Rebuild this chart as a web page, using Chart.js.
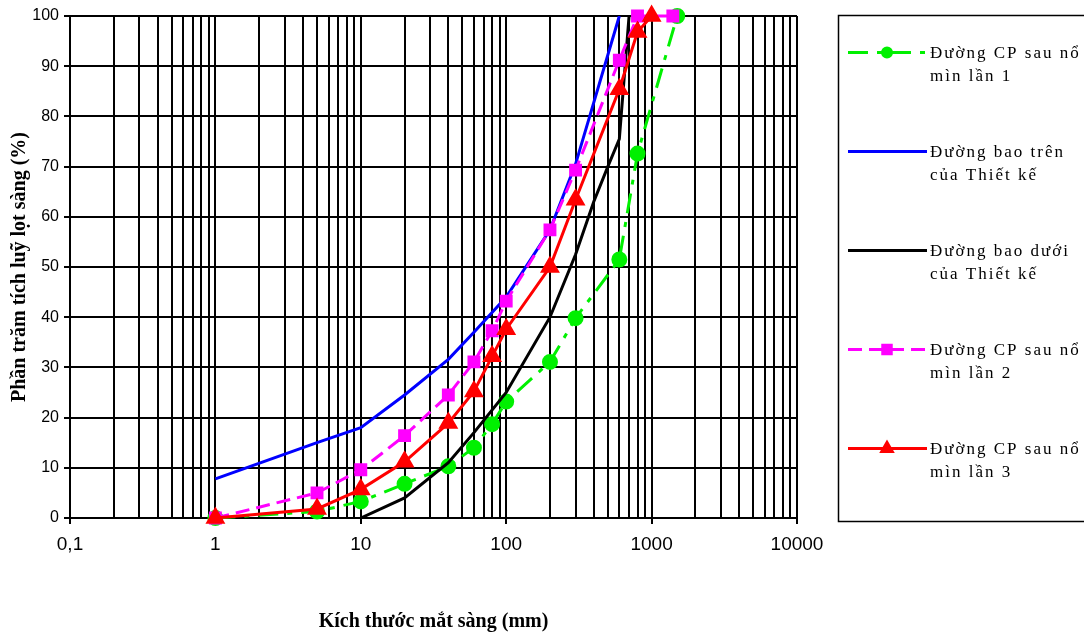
<!DOCTYPE html>
<html>
<head>
<meta charset="utf-8">
<script src="https://cdn.jsdelivr.net/npm/chart.js@4.4.0/dist/chart.umd.min.js"></script>
<style>
  html, body { margin: 0; padding: 0; background: #fff; }
  #wrap { width: 1084px; height: 634px; }
</style>
</head>
<body>
<div id="wrap"><canvas id="chart" width="1084" height="634"></canvas></div>
<script>
// sieve sizes (mm) and cumulative passing (%)
const sizes1 = [1, 5, 10, 20, 40, 60, 80, 100, 200, 300, 600, 800, 1500];
const pass1 = [0, 1.3, 3.3, 6.8, 10.3, 14, 18.7, 23.2, 31.1, 39.8, 51.5, 72.6, 100];

const sizesUpper = [1, 5, 10, 20, 40, 60, 100, 200, 300, 600];
const passUpper = [7.8, 15, 18, 24.5, 31.6, 37, 44, 57.4, 70.5, 100];

const sizesLower = [10, 20, 40, 60, 100, 200, 300, 400, 500, 600, 700];
const passLower = [0, 4, 11, 17, 25, 40, 52.5, 63, 70, 75.5, 100];

const sizes2 = [1, 5, 10, 20, 40, 60, 80, 100, 200, 300, 600, 800, 1400];
const pass2 = [0, 5, 9.6, 16.4, 24.5, 31.1, 37.3, 43.2, 57.4, 69.3, 91.2, 100, 100];

const sizes3 = [1, 5, 10, 20, 40, 60, 80, 100, 200, 300, 600, 800, 1000];
const pass3 = [0, 1.8, 5.7, 11.2, 18.9, 25.2, 32.2, 37.6, 50, 63.4, 85.4, 96.8, 100];

const xDecades = [0.1, 1, 10, 100, 1000, 10000];
const xTickLabels = ['0,1', '1', '10', '100', '1000', '10000'];

const legendLabels = [
  ['Đường CP sau nổ', 'mìn lần 1'],
  ['Đường bao trên', 'của Thiết kế'],
  ['Đường bao dưới', 'của Thiết kế'],
  ['Đường CP sau nổ', 'mìn lần 2'],
  ['Đường CP sau nổ', 'mìn lần 3']
];

const toPts = (xs, ys) => xs.map((x, i) => ({ x: x, y: ys[i] }));

// all log grid lines 0.1 .. 10000
const gridVals = [];
xDecades.forEach((d, i) => {
  if (i === xDecades.length - 1) { gridVals.push(d); return; }
  for (let k = 1; k <= 9; k++) gridVals.push(d * k);
});
const isDecade = v => xDecades.some(d => Math.abs(d - v) / d < 1e-6);

const GREEN = '#00f000', BLUE = '#0000ff', MAGENTA = '#ff00ff', RED = '#ff0000';

const legendPlugin = {
  id: 'sideLegend',
  afterDraw(chart) {
    const ctx = chart.ctx;
    ctx.save();
    ctx.strokeStyle = '#000';
    ctx.lineWidth = 1.5;
    ctx.setLineDash([]);
    ctx.strokeRect(838.5, 15.5, 300, 506);
    chart.data.datasets.forEach((ds, i) => {
      const y = 52.5 + i * 99;
      ctx.strokeStyle = ds.borderColor;
      ctx.lineWidth = 3;
      ctx.setLineDash(ds.borderDash || []);
      ctx.beginPath();
      ctx.moveTo(848, y);
      ctx.lineTo(927, y);
      ctx.stroke();
      ctx.setLineDash([]);
      if (ds.pointRadius > 0) {
        ctx.fillStyle = ds.borderColor;
        Chart.helpers.drawPoint(ctx, {
          pointStyle: ds.pointStyle,
          radius: ds.legendRadius,
          rotation: 0,
          borderWidth: 1
        }, 887, y);
      }
      ctx.fillStyle = '#000';
      ctx.font = '17px "Liberation Serif"';
      ctx.letterSpacing = '2px';
      ctx.textAlign = 'left';
      ctx.textBaseline = 'alphabetic';
      ctx.fillText(legendLabels[i][0], 930, y + 5.5);
      ctx.fillText(legendLabels[i][1], 930, y + 28.5);
      ctx.letterSpacing = '0px';
    });
    ctx.restore();
  }
};

new Chart(document.getElementById('chart'), {
  type: 'line',
  data: {
    datasets: [
      {
        label: legendLabels[0].join(' '),
        data: toPts(sizes1, pass1),
        borderColor: GREEN, backgroundColor: GREEN,
        borderWidth: 3, borderDash: [20, 9, 5, 9],
        pointStyle: 'circle', pointRadius: 6.5, legendRadius: 4.5,
        pointBorderColor: GREEN, pointBackgroundColor: GREEN,
        clip: false,
        order: 5
      },
      {
        label: legendLabels[1].join(' '),
        data: toPts(sizesUpper, passUpper),
        borderColor: BLUE, backgroundColor: BLUE,
        borderWidth: 3, pointRadius: 0,
        order: 4
      },
      {
        label: legendLabels[2].join(' '),
        data: toPts(sizesLower, passLower),
        borderColor: '#000', backgroundColor: '#000',
        borderWidth: 3, pointRadius: 0,
        order: 3
      },
      {
        label: legendLabels[3].join(' '),
        data: toPts(sizes2, pass2),
        borderColor: MAGENTA, backgroundColor: MAGENTA,
        borderWidth: 3, borderDash: [14, 7],
        pointStyle: 'rect', pointRadius: 7, legendRadius: 6,
        pointBorderColor: MAGENTA, pointBackgroundColor: MAGENTA,
        clip: false,
        order: 2
      },
      {
        label: legendLabels[4].join(' '),
        data: toPts(sizes3, pass3),
        borderColor: RED, backgroundColor: RED,
        borderWidth: 3,
        pointStyle: 'triangle', pointRadius: 8.5, legendRadius: 6,
        pointBorderColor: RED, pointBackgroundColor: RED,
        clip: false,
        order: 1
      }
    ]
  },
  options: {
    responsive: false,
    animation: false,
    layout: { padding: { left: 8, right: 287, top: 16, bottom: 0 } },
    plugins: {
      legend: { display: false },
      tooltip: { enabled: false }
    },
    scales: {
      x: {
        type: 'logarithmic',
        min: 0.1,
        max: 10000,
        afterBuildTicks(scale) {
          scale.ticks = gridVals.map(v => ({ value: v }));
        },
        afterFit(scale) { scale.height = 116; },
        ticks: {
          autoSkip: false,
          maxRotation: 0,
          minRotation: 0,
          padding: 9,
          color: '#000',
          font: { family: '"Liberation Sans"', size: 19 },
          callback(value) {
            const i = xDecades.findIndex(d => Math.abs(d - value) / d < 1e-6);
            return i >= 0 ? xTickLabels[i] : '';
          }
        },
        grid: {
          color: '#000',
          lineWidth: 2,
          tickLength: 6,
          tickColor: c => (c.tick && isDecade(c.tick.value)) ? '#000' : 'rgba(0,0,0,0)'
        },
        border: { color: '#000', width: 2 },
        title: {
          display: true,
          text: 'Kích thước mắt sàng (mm)',
          color: '#000',
          font: { family: '"Liberation Serif"', size: 20, weight: 'bold' },
          padding: { top: 0, bottom: 0 }
        }
      },
      y: {
        min: 0,
        max: 100,
        afterFit(scale) { scale.width = 62; },
        ticks: {
          stepSize: 10,
          padding: 5,
          color: '#000',
          font: { family: '"Liberation Sans"', size: 16 }
        },
        grid: { color: '#000', lineWidth: 2, tickLength: 6, tickColor: '#000' },
        border: { color: '#000', width: 2 },
        title: {
          display: true,
          text: 'Phần trăm tích luỹ lọt sàng (%)',
          color: '#000',
          font: { family: '"Liberation Serif"', size: 20, weight: 'bold' },
          padding: { top: 0, bottom: 0 }
        }
      }
    }
  },
  plugins: [legendPlugin]
});
</script>
</body>
</html>
